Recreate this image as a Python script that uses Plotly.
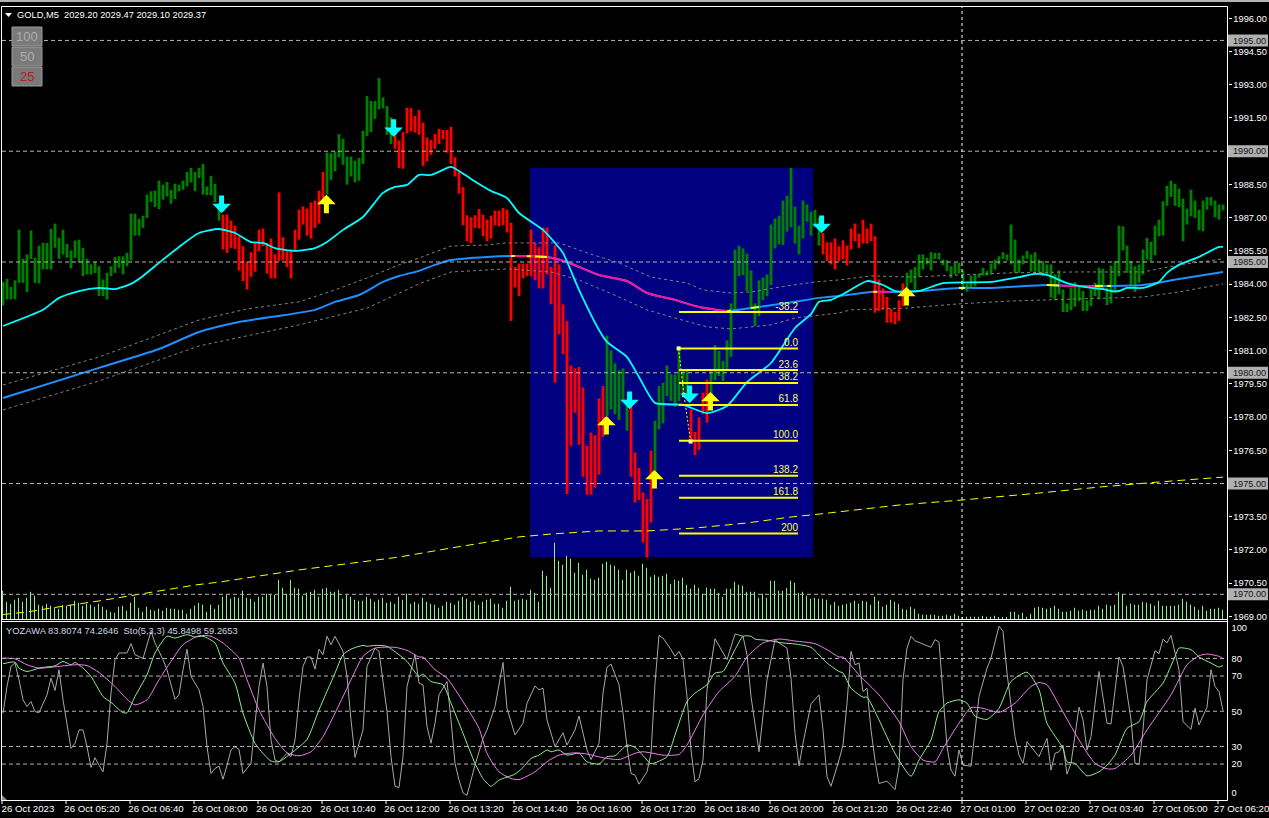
import plotly.graph_objects as go

W, H = 1269, 818

# ---------- price columns (index = 5 minute bar) ----------
HIGH = [
1984.10,1984.24,1983.87,1984.17,1986.46,1985.14,1985.34,1986.42,1985.19,1985.74,
1985.86,1985.86,1986.49,1986.73,1986.09,1986.46,1985.82,1985.52,1985.97,1986.01,
1985.64,1985.14,1984.89,1985.01,1984.81,1984.21,1984.51,1984.81,1985.22,1985.26,
1985.26,1985.41,1987.18,1987.18,1986.94,1987.09,1988.04,1988.19,1988.22,1988.67,
1988.49,1988.61,1988.26,1988.53,1988.49,1988.67,1989.06,1989.25,1989.06,1989.25,
1989.43,1988.41,1988.89,1988.53,1987.66,1987.14,1987.14,1986.87,1986.64,1986.16,
1985.71,1985.01,1985.44,1985.86,1986.46,1986.51,1985.86,1986.06,1985.34,1988.14,
1986.12,1985.49,1985.56,1986.46,1987.36,1987.51,1987.41,1987.69,1987.77,1988.22,
1989.06,1989.94,1989.91,1989.99,1990.77,1990.56,1989.76,1989.76,1989.58,1989.69,
1990.92,1992.49,1992.27,1992.27,1993.30,1992.43,1992.04,1991.53,1990.81,1990.48,
1990.86,1991.97,1991.94,1991.59,1991.86,1991.29,1990.62,1990.51,1990.78,1991.01,
1990.96,1990.96,1991.10,1989.73,1989.09,1988.38,1987.11,1987.02,1987.11,1987.39,
1987.14,1986.91,1987.09,1987.32,1987.32,1987.44,1987.36,1986.76,1984.78,1984.93,
1984.93,1984.93,1986.46,1985.86,1985.67,1986.55,1986.55,1984.78,1985.76,1984.89,
1983.09,1982.34,1980.33,1980.20,1980.26,1979.33,1976.70,1977.30,1977.18,1978.85,
1979.40,1981.68,1981.01,1980.42,1980.11,1980.20,1978.80,1978.58,1976.40,1975.70,
1974.59,1974.30,1976.48,1977.83,1979.40,1979.55,1980.33,1979.93,1979.93,1981.05,
1980.15,1980.18,1978.35,1977.33,1977.99,1979.10,1979.70,1980.08,1981.25,1980.98,
1980.53,1981.46,1983.13,1985.56,1985.74,1985.61,1985.38,1984.62,1983.13,1984.17,
1984.30,1984.44,1986.69,1986.96,1987.09,1987.77,1987.99,1989.25,1987.50,1986.64,
1987.77,1987.59,1987.27,1987.36,1986.99,1986.31,1985.89,1985.89,1986.06,1985.71,
1985.98,1985.74,1986.51,1986.73,1986.28,1986.91,1986.51,1986.73,1986.16,1984.21,
1983.81,1983.42,1982.89,1982.74,1983.27,1984.03,1984.51,1984.66,1984.77,1985.34,
1985.34,1985.19,1985.44,1985.41,1985.41,1985.11,1985.08,1984.81,1984.96,1984.96,
1984.62,1984.02,1984.39,1984.44,1984.48,1984.74,1984.59,1984.93,1985.11,1985.26,
1985.44,1985.34,1986.69,1986.01,1985.11,1985.29,1985.49,1985.34,1985.44,1985.11,
1985.04,1984.89,1984.89,1984.44,1984.62,1983.76,1983.13,1983.84,1984.09,1983.96,
1983.69,1983.27,1983.76,1984.06,1984.74,1984.69,1983.84,1984.84,1985.04,1986.64,
1986.61,1985.74,1985.04,1984.81,1984.89,1985.56,1986.09,1985.91,1986.64,1986.91,
1987.74,1988.44,1988.67,1988.53,1988.31,1987.86,1987.41,1988.26,1987.77,1987.36,
1987.77,1987.93,1987.93,1987.77,1987.59,1987.59]
LOW = [
1983.04,1983.31,1983.31,1983.31,1984.06,1984.06,1983.64,1985.14,1984.06,1984.03,
1984.66,1984.66,1984.66,1985.64,1985.14,1985.34,1985.19,1984.71,1985.19,1984.96,
1984.36,1984.44,1984.44,1984.51,1983.46,1983.46,1983.31,1984.36,1984.51,1984.74,
1984.44,1984.81,1985.07,1986.19,1986.19,1986.54,1986.99,1987.71,1987.48,1987.39,
1987.81,1987.96,1987.63,1987.84,1988.19,1988.26,1988.41,1988.59,1988.19,1988.79,
1988.04,1988.01,1988.01,1987.69,1986.87,1985.56,1985.41,1985.64,1985.59,1984.62,
1984.14,1983.76,1984.33,1984.56,1985.49,1985.71,1984.48,1984.26,1984.26,1985.04,
1985.07,1984.77,1984.26,1985.49,1986.01,1986.69,1986.19,1986.06,1986.54,1986.73,
1987.66,1988.04,1988.71,1989.09,1989.72,1989.39,1988.49,1988.86,1988.59,1988.67,
1989.43,1990.69,1990.86,1991.46,1991.89,1991.94,1990.74,1990.33,1990.11,1989.24,
1989.21,1990.81,1990.89,1990.84,1990.74,1989.34,1989.54,1989.84,1990.11,1990.33,
1990.54,1989.94,1989.43,1988.86,1988.08,1986.66,1985.94,1985.85,1986.54,1986.51,
1986.16,1985.94,1986.06,1986.66,1986.61,1986.66,1986.34,1982.34,1983.85,1983.46,
1984.26,1984.36,1984.36,1984.18,1983.81,1983.81,1984.44,1983.09,1979.55,1981.74,
1980.84,1974.53,1976.70,1978.20,1976.75,1975.31,1974.50,1974.50,1974.81,1975.40,
1977.11,1978.05,1978.35,1978.13,1977.87,1978.73,1977.38,1975.31,1974.14,1974.26,
1972.34,1971.66,1973.24,1974.90,1977.45,1977.72,1978.95,1978.73,1978.46,1978.73,
1979.03,1979.03,1976.78,1976.28,1976.52,1978.13,1977.75,1978.35,1979.66,1979.85,
1979.63,1980.15,1980.72,1982.86,1984.36,1984.41,1983.69,1982.86,1982.11,1982.56,
1983.28,1983.46,1983.96,1985.61,1985.79,1985.76,1986.37,1986.57,1985.83,1985.34,
1986.06,1986.82,1986.19,1986.58,1985.74,1985.34,1985.04,1984.89,1984.66,1985.04,
1985.11,1984.84,1985.56,1985.94,1985.64,1985.83,1985.83,1985.94,1982.71,1982.79,
1982.86,1982.26,1982.26,1982.19,1982.34,1983.01,1983.46,1984.06,1983.76,1984.33,
1984.66,1984.89,1984.62,1985.14,1985.11,1984.86,1984.59,1984.29,1984.44,1984.48,
1983.76,1983.66,1983.84,1983.91,1984.29,1984.39,1984.39,1984.44,1984.66,1984.89,
1985.14,1985.07,1984.89,1984.51,1984.51,1984.89,1985.14,1984.56,1984.56,1984.51,
1984.36,1984.36,1983.39,1983.27,1983.54,1982.74,1982.74,1982.83,1982.98,1983.24,
1982.79,1982.79,1983.01,1983.46,1983.31,1983.76,1983.06,1983.13,1983.61,1984.36,
1985.52,1984.51,1983.91,1983.64,1984.06,1984.44,1985.11,1985.04,1985.31,1986.16,
1986.19,1987.54,1987.93,1987.54,1987.48,1985.94,1986.69,1987.06,1986.99,1986.43,
1986.39,1987.36,1987.54,1987.02,1986.91,1987.33]
RED_RUNS = [(55, 80), (98, 150), (157, 162), (172, 176), (205, 225)]

VOLUME = [
85,52,46,58,64,52,64,82,70,43,40,46,40,34,31,43,40,43,55,49,40,46,43,37,46,37,28,22,19,37,
40,25,49,67,34,22,37,28,25,31,25,34,31,31,28,28,16,31,40,49,43,22,43,31,43,67,73,61,67,64,
85,64,61,52,67,67,76,73,73,118,94,76,118,94,91,70,79,82,88,67,91,94,82,82,88,61,73,67,58,55,
55,67,61,52,58,64,49,52,46,67,58,76,46,52,46,
64,52,46,43,34,40,52,49,43,55,67,61,52,55,43,52,58,61,46,46,34,55,97,55,58,61,58,88,79,52,
145,130,94,229,175,163,190,181,139,169,133,148,121,118,124,166,172,163,160,148,118,148,139,145,130,166,154,127,133,127,
130,136,106,118,115,124,103,91,103,94,76,94,91,91,79,67,91,91,112,103,100,82,82,82,64,76,64,115,115,85,
85,94,115,109,79,82,70,61,64,61,61,58,43,52,40,
43,46,49,55,46,55,52,43,67,55,37,43,58,52,46,31,28,37,31,16,13,13,13,13,10,10,13,10,16,10,
4,7,7,7,7,10,7,7,10,6,4,6,22,22,13,19,7,16,34,37,34,31,34,40,31,22,22,25,34,25,
28,25,28,28,40,31,43,40,43,82,76,40,46,43,43,52,49,46,40,55,40,40,40,40,43,61,52,43,37,28,
40,25,31,31,34,28]

# ---------- moving averages (bar index, price) ----------
CYAN_I = [0,10,14,19,24,28,32,35,39,44,49,54,58,62,65,68,73,78,81,85,90,95,98,101,104,107,112,114,117,122,126,129,135,138,140,144,149,151,156,159,163,170,176,181,186,192,198,202,204,207,211,216,220,223,229,235,247,254,258,261,266,272,275,277,279,281,285,289,291,294,299,304,305]
CYAN_P = [1982.11,1982.84,1983.38,1983.69,1983.83,1983.78,1984.01,1984.37,1984.96,1985.68,1986.31,1986.49,1986.31,1985.90,1985.86,1985.63,1985.50,1985.63,1985.90,1986.45,1987.03,1988.12,1988.39,1988.48,1988.93,1988.93,1989.29,1989.11,1988.75,1988.21,1987.89,1987.21,1986.45,1985.86,1985.41,1983.74,1981.93,1981.39,1980.71,1979.81,1978.64,1978.55,1978.18,1978.50,1979.58,1980.44,1982.02,1982.65,1983.20,1983.29,1983.65,1984.14,1983.96,1983.69,1983.69,1984.05,1984.10,1984.32,1984.46,1984.42,1984.05,1983.83,1983.78,1983.69,1983.69,1983.83,1983.83,1984.10,1984.51,1984.87,1985.23,1985.68,1985.68]

MA_I = [0,24,39,49,59,78,83,89,95,99,104,108,112,121,127,136,141,149,156,161,168,174,181,187,196,204,209,212,217,222,229,239,247,261,264,268,273,277,285,294,305]
MA_P = [1978.86,1980.22,1981.07,1981.84,1982.29,1982.84,1983.20,1983.51,1984.10,1984.37,1984.60,1984.87,1985.09,1985.23,1985.27,1985.23,1985.00,1984.41,1984.14,1983.60,1983.29,1982.97,1982.79,1982.92,1983.15,1983.38,1983.47,1983.53,1983.65,1983.65,1983.69,1983.83,1983.83,1983.96,1983.94,1983.92,1983.92,1983.92,1983.96,1984.23,1984.55]
PINK_RUNS = [(127, 181), (217, 222), (264, 273)]
YEL_SEG_I = [127,128,None,131,132,None,133,136,None,181,182,None,187,189,None,217.5,218.5,None,239,240.5,None,261,264,None,273,275,None,276,277]
YEL_SEG_P = [1985.27,1985.27,None,1985.26,1985.26,None,1985.25,1985.23,None,1982.79,1982.80,None,1982.92,1982.97,None,1983.65,1983.65,None,1983.83,1983.83,None,1983.96,1983.94,None,1983.92,1983.92,None,1983.92,1983.92]

UP_I = [0,24,49,61,74,83,91,99,104,112,121,126,139,146,154,162,171,175,182,187,196,203,209,217,227,239,252,268,285,294,305]
UP_P = [1979.45,1980.71,1982.38,1982.88,1983.20,1983.74,1984.28,1984.87,1985.18,1985.72,1985.77,1985.86,1985.86,1985.41,1984.96,1984.32,1984.05,1983.74,1983.60,1983.65,1983.92,1984.10,1984.19,1984.37,1984.32,1984.41,1984.51,1984.55,1984.55,1984.87,1985.14]
DN_I = [0,24,49,74,91,99,104,112,126,137,144,154,161,167,176,182,192,198,209,212,226,239,252,268,285,294,305]
DN_P = [1978.32,1979.63,1981.21,1982.16,1982.92,1983.60,1984.01,1984.55,1984.69,1984.55,1984.19,1983.42,1982.84,1982.52,1982.07,1981.98,1982.16,1982.47,1982.70,1982.84,1982.92,1983.11,1983.24,1983.33,1983.42,1983.65,1984.01]

LONG_I = [0,6,12,19,24,30,36,42,48,54,74,99,112,129,137,149,161,173,186,197,204,224,240,259,274,289,305]
LONG_P = [1969.09,1969.20,1969.38,1969.56,1969.70,1969.88,1970.06,1970.24,1970.42,1970.55,1971.10,1971.68,1972.09,1972.59,1972.72,1972.86,1972.86,1972.99,1973.22,1973.49,1973.62,1974.03,1974.26,1974.57,1974.84,1975.07,1975.29]

# ---------- signals ----------
SELL_I = [55, 98, 157, 172, 205]
SELL_P = [1987.21, 1990.65, 1978.36, 1978.64, 1986.31]
BUY_I = [81, 151, 163, 177, 226]
BUY_P = [1988.03, 1978.05, 1975.61, 1979.13, 1983.87]

# ---------- fibonacci ----------
FIB_LABELS = ["-38.2", "0.0", "23.6", "38.2", "61.8", "100.0", "138.2", "161.8", "200"]
FIB_PRICES = [1982.74, 1981.10, 1980.12, 1979.54, 1978.55, 1976.93, 1975.35, 1974.36, 1972.74]
FIB_START, FIB_END = 169, 198.75
ZIG_I = [168.9, 170.25, 171.9]
ZIG_P = [1981.10, 1979.00, 1976.90]

# ---------- oscillators ----------
GREY_I = [0,1,2,3,4,5,6,7,8,9,11,12,13,14,15,17,18,19,20,21,22,23,24,25,26,27,28,29,31,32,33,35,37,38,40,41,43,44,45,46,47,49,50,51,52,53,54,55,56,57,58,59,60,62,63,64,65,66,67,68,69,71,72,73,74,75,76,77,78,79,80,81,82,83,85,86,87,88,90,91,93,94,96,97,98,99,100,101,103,104,
105,106,107,108,109,111,112,113,114,115,116,117,118,120,121,123,125,126,128,130,131,133,134,135,136,138,140,141,143,144,146,147,149,150,151,152,154,155,156,157,158,159,161,162,163,164,165,167,168,169,170,171,172,173,174,175,176,178,181,183,185,186,187,189,191,193,194,196,197,198,199,200,202,204,205,206,207,209,
210,211,212,213,214,215,216,217,218,219,221,223,224,225,226,227,228,232,233,234,235,236,237,238,239,240,242,243,244,246,247,249,250,251,253,254,255,256,259,261,262,263,264,265,266,267,269,270,271,272,274,276,277,279,280,282,283,284,285,286,288,289,290,291,292,294,295,297,298,299,301,302,303,304,305]
GREY_V = [48.9,64.1,75.5,77.4,67.9,56.5,52.7,55.5,49.8,49.2,59.3,68.8,61.8,73.6,56.5,28.9,31.8,39.4,39.4,29.9,18.1,23.6,19.4,15.6,31.8,60.3,79.3,83.1,83.1,88.4,82.1,80,95.4,88.8,79.3,73.6,56.8,59.3,73.6,85.3,69.8,62.2,52.7,29.9,14.7,17.5,18.8,11.4,19.4,28,29.9,28.3,14.7,20.4,43.2,64.1,77.4,64.1,33.7,22.3,21.3,26.1,24.2,33.7,56.5,75.5,80.8,80.8,73.9,85.3,82.1,92.6,87.8,92.6,84,69.8,45.1,23.8,39.4,75.5,85.9,84,49.8,24.2,7.4,6.7,24.2,64.1,82.1,66,
65,41.3,31.8,43.2,59.3,66.9,45.1,20.4,10.9,3.6,2.3,10.9,19.4,34.6,39.4,52.7,77.7,51.7,36.5,43.2,54.6,64.4,62.2,63.1,45.1,29.9,37.8,30.8,39.4,47.3,28,22.6,31.8,60.3,75,76.8,65,48.9,29.9,14.7,13.7,8.6,15.6,26.1,66,93.1,91.6,85,81.2,84,79.6,58.4,28,9.9,11.8,22.3,62.2,91.2,79.3,93.9,92.6,82.1,58.4,27,67.9,90.7,88.8,85.9,68.8,37.5,19,31.8,54.2,59.3,39.4,12.8,7.4,22.3,
30.8,54.6,84,76.4,77.4,61.2,63.1,39.4,22.3,9,10.3,5.5,18.5,67.9,85.9,92.6,90,86.3,90.7,89.3,60.3,29.9,16.6,13.1,28,19.4,18.8,39.4,58.4,74.5,80.2,98.3,95.4,71.7,35.6,25.1,20.4,32.7,24.2,34.6,16.6,26.1,27,30.8,14.3,20.4,52.3,45.1,28,35.6,72.6,43.2,42.8,80.8,75.5,45.1,20.4,20,39.4,67.9,84.4,82.7,91,88.8,93.1,73.6,44.1,39.7,51.7,42.2,52.3,73.6,64.1,61.2,50.4]

STO_K_I = [0,3,4,6,9,10,13,15,17,18,20,22,25,27,30,31,33,36,38,41,43,46,48,50,53,55,58,60,63,65,67,69,72,76,79,83,85,87,90,91,93,96,99,101,104,
105,107,110,112,115,118,120,122,124,128,130,132,134,136,137,139,141,144,146,149,151,153,156,158,161,162,166,168,171,173,176,178,180,183,185,187,188,191,195,198,202,206,209,
210,212,215,216,219,223,227,229,232,234,236,239,241,243,246,249,252,256,259,261,265,266,268,271,274,276,278,281,284,286,290,293,294,297,299,302,304,305]
STO_K_V = [77,77.9,74.5,72.6,74.5,74.9,75.8,78.3,76.4,77.7,74.5,69.8,58.4,55.1,49.2,49.2,58.4,70.7,83.1,92.6,91.6,93.5,92.2,92.6,88.8,77.4,66,48.9,31.8,26.1,21.7,21.3,26.1,34,50.8,71.7,82.1,85.3,87.4,86.9,87.4,86.9,82.1,78.3,69.8,
71.1,66.9,65,54.6,37.5,20.4,11.8,7.4,10.9,14.3,18.1,23.2,25.1,28,27,28,25.1,26.1,21.3,20,24.2,24.7,30.8,29.5,22.3,20.2,24.2,36.5,55.5,60.3,65,71.7,72.6,85,92.6,92.6,91,90.3,88.8,88.2,86.3,77.4,72.6,
71.7,63.1,58,58,45.1,26.1,13.1,22.3,33.7,49.8,54.6,56.5,54.6,47.3,45.4,51.7,66.9,72.2,62.2,43.2,28.9,21.3,20.4,13.3,15.6,19.4,25.1,40.3,44.1,55.5,66,81.2,85.9,85,80.8,77.4,75.1,76]

STO_D_I = [0,3,6,9,14,18,21,24,28,31,33,36,39,42,45,49,52,55,59,61,64,68,71,74,77,80,84,87,90,93,98,101,104,
105,108,111,115,119,121,124,127,129,133,136,139,143,146,150,154,158,160,165,169,171,175,179,183,186,190,194,198,203,206,209,
210,214,219,224,227,230,233,235,239,242,245,249,253,257,259,261,264,269,273,276,278,282,286,292,296,299,301,304,305]
STO_D_V = [80.2,79.8,76.4,74.5,75.5,76.4,76,72,64.1,56.8,53.6,56.5,67.9,78.3,87.8,92.9,92.6,88.8,80.2,67.9,50.8,34.6,26.4,24.7,27,35.6,53.6,67.9,81.2,85.9,86.3,84.6,80.8,
80.8,73.6,68.8,55.5,40.3,26.1,15.6,11.8,11.2,15.6,21.3,25.1,26.4,25.7,23.6,22.6,26.1,27,25.1,25.5,30.8,47.9,61.2,69.8,80.8,88.8,91,89.9,88.4,85,80.8,
80.8,70.7,59.3,44.1,29.9,22.3,21.3,28.9,43.2,52.1,51.7,49.4,54.6,64.1,66.3,65,53.6,33.7,20.4,17.3,17.5,25.1,39.4,59.3,76.4,81.5,82.5,81.2,79.8]

# ---------- axis texts ----------
TIME_LABELS = ["26 Oct 2023","26 Oct 05:20","26 Oct 06:40","26 Oct 08:00","26 Oct 09:20","26 Oct 10:40","26 Oct 12:00",
               "26 Oct 13:20","26 Oct 14:40","26 Oct 16:00","26 Oct 17:20","26 Oct 18:40","26 Oct 20:00","26 Oct 21:20",
               "26 Oct 22:40","27 Oct 01:00","27 Oct 02:20","27 Oct 03:40","27 Oct 05:00","27 Oct 06:20"]
PRICE_TICKS = [1969.0,1970.5,1972.0,1973.5,1976.5,1978.0,1979.5,1981.0,1982.5,1984.0,1985.5,1987.0,1988.5,1991.5,1993.0,1994.5,1996.0]
BOXED_LEVELS = [1995, 1990, 1985, 1980, 1975, 1970]
OSC_LEVELS = [80, 70, 50, 30, 20]
CROSS_I = 239.75
BOX_I0, BOX_I1, BOX_P0, BOX_P1 = 131.75, 202.5, 1971.68, 1989.25

assert len(HIGH) == len(LOW) == len(VOLUME) == 306, (len(HIGH), len(LOW), len(VOLUME))
for a, b in [(CYAN_I, CYAN_P), (MA_I, MA_P), (UP_I, UP_P), (DN_I, DN_P), (LONG_I, LONG_P), (GREY_I, GREY_V), (STO_K_I, STO_K_V), (STO_D_I, STO_D_V)]:
    assert len(a) == len(b), (len(a), len(b))

# ---------- styling ----------
FONT = "Liberation Sans, sans-serif"
GRID = "#b4b4b4"
px = lambda p: p / W
py = lambda p: 1 - p / H
MAIN_TOP, MAIN_BOT, OSC_TOP, OSC_BOT, AXIS_X = 7, 620, 622, 800, 1227.5

def in_runs(i, runs):
    return any(a <= i <= b for a, b in runs)

def runs_xy(xs, ys, runs):
    ox, oy = [], []
    for a, b in runs:
        ox += [x for x in xs if a <= x <= b] + [None]
        oy += [y for x, y in zip(xs, ys) if a <= x <= b] + [None]
    return ox, oy

idx = list(range(len(HIGH)))
bar_colors = ["#ff0000" if in_runs(i, RED_RUNS) else "#008000" for i in idx]

fig = go.Figure()
fig.add_trace(go.Bar(x=idx, y=VOLUME, width=0.25, offset=-0.25, marker=dict(color="#90ee90", line_width=0), yaxis="y"))
fig.add_trace(go.Bar(x=idx, y=[h - l for h, l in zip(HIGH, LOW)], base=LOW, width=0.7,
                     marker=dict(color=bar_colors, line_width=0), yaxis="y2"))
def line(x, y, color, width, dash="solid", axis="y2", shape="linear"):
    fig.add_trace(go.Scatter(x=x, y=y, mode="lines", line=dict(color=color, width=width, dash=dash, shape=shape, smoothing=0.6 if shape == "spline" else None), yaxis=axis, connectgaps=False))

line(UP_I, UP_P, "#808080", 1, "3px,3px")
line(DN_I, DN_P, "#808080", 1, "3px,3px")
line(LONG_I, LONG_P, "#ffff00", 1, "8px,5px")
line(MA_I, MA_P, "#1e90ff", 2, shape="spline")
pink_x, pink_y = runs_xy(MA_I, MA_P, PINK_RUNS)
line(pink_x, pink_y, "#ff1493", 2, shape="spline")
line(YEL_SEG_I, YEL_SEG_P, "#ffff00", 2)
line(CYAN_I, CYAN_P, "#00ffff", 1.8, shape="spline")

fib_x, fib_y = [], []
for p in FIB_PRICES:
    fib_x += [FIB_START, FIB_END, None]
    fib_y += [p, p, None]
line(fib_x, fib_y, "#ffff00", 2)
fig.add_trace(go.Scatter(x=[FIB_END] * len(FIB_PRICES), y=FIB_PRICES, mode="text", text=FIB_LABELS, textposition="top left",
                         textfont=dict(color="#ffff66", size=10, family=FONT), yaxis="y2"))
fig.add_trace(go.Scatter(x=ZIG_I, y=ZIG_P, mode="lines+markers", line=dict(color="#ffff00", width=1, dash="2px,2px"),
                         marker=dict(symbol="square", size=4, color="#ffff99"), yaxis="y2"))

line(GREY_I, GREY_V, "#a9a9a9", 1, axis="y3")
line(STO_K_I, STO_K_V, "#90ee90", 1, axis="y3", shape="spline")
line(STO_D_I, STO_D_V, "#ee82ee", 1, axis="y3", shape="spline")

shapes = []
def seg(x0, y0, x1, y1, color="#ffffff", dash="solid", width=1, **kw):
    shapes.append(dict(type="line", xref=kw.get("xref", "paper"), yref=kw.get("yref", "paper"), x0=x0, y0=y0, x1=x1, y1=y1,
                       line=dict(color=color, width=width, dash=dash), layer=kw.get("layer", "above")))

shapes.append(dict(type="rect", xref="x", yref="y2", x0=BOX_I0, x1=BOX_I1, y0=BOX_P0, y1=BOX_P1,
                   fillcolor="#000080", line_width=0, layer="below"))
for lv in BOXED_LEVELS:
    seg(px(2), lv, px(AXIS_X), lv, GRID, "4px,3px", yref="y2")
    yp = 151.3 + (1990 - lv) * 22.15
    shapes.append(dict(type="rect", xref="paper", yref="paper", x0=px(1228), x1=px(1268), y0=py(yp - 6), y1=py(yp + 6),
                       fillcolor="#b0b0b0", line_width=0, layer="above"))
for lv in OSC_LEVELS:
    seg(px(2), lv, px(AXIS_X), lv, GRID, "4px,3px", yref="y3")
seg(CROSS_I, py(OSC_BOT), CROSS_I, py(MAIN_TOP), "#ffffff", "3px,3px", xref="x")

# frame
seg(px(1.5), py(6.5), px(AXIS_X), py(6.5))
seg(px(1.5), py(6.5), px(1.5), py(OSC_BOT + .5))
seg(px(AXIS_X), py(6.5), px(AXIS_X), py(OSC_BOT + .5))
seg(px(1.5), py(619.5), px(AXIS_X), py(619.5))
seg(px(1.5), py(621.5), px(AXIS_X), py(621.5))
seg(px(1.5), py(OSC_BOT + .5), px(AXIS_X), py(OSC_BOT + .5))
shapes.append(dict(type="rect", xref="paper", yref="paper", x0=0, x1=1, y0=py(2), y1=1, fillcolor="#b4b4b4", line_width=0, layer="above"))

# time ticks
tick_i = [-0.25 + 16 * n for n in range(len(TIME_LABELS))]
for t in tick_i:
    seg(t, py(OSC_BOT), t, py(OSC_BOT + 4), xref="x")

# chart menu triangle and corner mark
shapes.append(dict(type="path", xref="paper", yref="paper",
                   path=f"M {px(5)} {py(13)} L {px(12)} {py(13)} L {px(8.5)} {py(17)} Z", fillcolor="#ffffff", line_width=0))
shapes.append(dict(type="path", xref="paper", yref="paper",
                   path=f"M {px(2)} {py(795)} L {px(7)} {py(800)} L {px(2)} {py(800)} Z", fillcolor="#8090a0", line_width=0))

# buttons
for top in (27, 47, 67):
    shapes.append(dict(type="rect", xref="paper", yref="paper", x0=px(12), x1=px(42), y0=py(top), y1=py(top + 19),
                       fillcolor="#7a7a7a", line=dict(color="#9c9c9c", width=1), layer="above"))

ann = []
def text(x, y, s, color="#ffffff", size=9.5, anchor="left"):
    ann.append(dict(xref="paper", yref="paper", x=px(x), y=py(y), text=s, showarrow=False, xanchor=anchor, yanchor="middle",
                    font=dict(color=color, size=size, family=FONT), align=anchor))

text(15, 15, "GOLD,M5  2029.20 2029.47 2029.10 2029.37", size=9.3)
text(4, 630.5, "YOZAWA 83.8074 74.2646  Sto(5,3,3) 45.8498 59.2653", "#cfd8e6", 9.4)
for (y, s, c) in [(36.5, "100", "#adadad"), (56.5, "50", "#adadad"), (76.5, "25", "#b02020")]:
    text(27, y, s, c, 13, "center")
for lv in BOXED_LEVELS:
    yp = 151.3 + (1990 - lv) * 22.15
    text(1231, yp, f"{lv:.2f}", "#111111", 9.2)

for i, p in zip(SELL_I, SELL_P):
    ann.append(dict(xref="x", yref="y2", x=i - 0.35, y=p, ax=0, ay=-19, text="", showarrow=True, arrowhead=1, arrowsize=0.62,
                    arrowwidth=5, arrowcolor="#00ffff", standoff=0))
for i, p in zip(BUY_I, BUY_P):
    ann.append(dict(xref="x", yref="y2", x=i - 0.15, y=p, ax=0, ay=20, text="", showarrow=True, arrowhead=1, arrowsize=0.62,
                    arrowwidth=5, arrowcolor="#ffff00", standoff=0))

axis_font = dict(color="#ffffff", size=9.7, family=FONT)
y_font = dict(color="#ffffff", size=9.3, family=FONT)
dom_main = [py(MAIN_BOT), py(MAIN_TOP)]
dom_osc = [py(OSC_BOT), py(OSC_TOP)]
label_i = [t + 6.5 for t in tick_i[:-1]] + [tick_i[-1] + 5.9]
fig.update_layout(
    width=W, height=H, margin=dict(l=0, r=0, t=0, b=0, pad=0, autoexpand=False), paper_bgcolor="#000000", plot_bgcolor="#000000",
    showlegend=False, barmode="overlay", hovermode=False, shapes=shapes, annotations=ann,
    xaxis=dict(domain=[0, 1], range=[-0.75, 316.5], anchor="y3", tickmode="array",
               tickvals=label_i, ticktext=TIME_LABELS, ticks="", tickfont=axis_font, tickangle=0,
               showgrid=False, zeroline=False, showline=False, ticklabelstandoff=1, ticklabeloverflow="allow"),
    yaxis=dict(domain=dom_main, range=[-3, 1836], visible=False, fixedrange=True),
    yaxis2=dict(overlaying="y", anchor="free", position=px(AXIS_X), side="right", range=[1968.84, 1996.51], tickmode="array",
                tickvals=PRICE_TICKS, ticktext=[f"{v:.2f}" for v in PRICE_TICKS], ticks="outside", ticklen=3, tickcolor="#ffffff",
                tickfont=y_font, showgrid=False, zeroline=False, showline=False, ticklabeloverflow="allow"),
    yaxis3=dict(domain=dom_osc, anchor="free", position=px(AXIS_X), side="right", range=[-0.4, 100.7], tickmode="array",
                tickvals=[97.2, 80, 70, 50, 30, 20, 3.6], ticktext=["100", "80", "70", "50", "30", "20", "0"], ticks="",
                ticklabelstandoff=3, tickfont=y_font, showgrid=False, zeroline=False, showline=False, ticklabeloverflow="allow"),
)
fig.write_html("out.html", config=dict(displayModeBar=False, responsive=False),
               post_script="document.body.style.margin='0';document.body.style.background='#000';document.body.style.overflow='hidden';")
